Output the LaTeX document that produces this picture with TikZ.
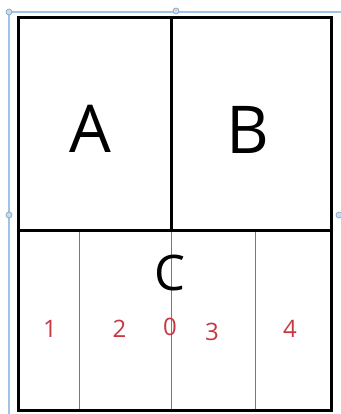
\documentclass[tikz,border=0pt]{standalone}
\usepackage{fontspec}
\setmainfont{Open Sans}
\definecolor{selblue}{RGB}{160,195,230}
\definecolor{handleblue}{RGB}{200,220,240}
\definecolor{numred}{RGB}{200,55,65}
\definecolor{thingray}{RGB}{120,120,120}
\begin{document}
\begin{tikzpicture}[x=1pt,y=-1pt,
  bigletter/.style={inner sep=0pt,font=\fontsize{66}{66}\selectfont},
  midletter/.style={inner sep=0pt,font=\fontsize{49}{49}\selectfont},
  numlabel/.style={inner sep=0pt,text=numred,font=\fontsize{24}{24}\selectfont},
  frameline/.style={draw=black,line width=3pt},
  thinline/.style={draw=thingray,line width=0.9pt},
  selline/.style={draw=selblue,line width=2pt},
  handle/.style={draw=selblue!80!black,fill=handleblue,line width=0.6pt}]
\useasboundingbox (0,0) rectangle (340,414);
\fill[white] (0,0) rectangle (340,414);
% selection frame
\draw[selline] (9,416) -- (9,12) -- (341,12);
\draw[handle] (9,12) circle (3);
\draw[handle] (176,11) circle (3);
\draw[handle] (9,215) circle (3);
\draw[handle] (339,215) circle (3);
% thin divisions in lower part
\draw[thinline] (79.5,230) -- (79.5,410);
\draw[thinline] (171,230) -- (171,410);
\draw[thinline] (255.5,230) -- (255.5,410);
% main frame
\draw[frameline] (18,18) rectangle (331.5,410);
\draw[frameline] (18,230) -- (331.5,230);
\draw[frameline] (171.5,18) -- (171.5,230);
% labels
\node[bigletter] (A) at (90,128.5) {A};
\node[bigletter] (B) at (248,130) {B};
\node[midletter] (C) at (170,272.5) {C};
\node[numlabel] (n1) at (50,328.5) {1};
\node[numlabel] (n2) at (119.5,328.5) {2};
\node[numlabel] (n0) at (170,327) {0};
\node[numlabel] (n3) at (212,332) {3};
\node[numlabel] (n4) at (290,328.5) {4};
\end{tikzpicture}
\end{document}
